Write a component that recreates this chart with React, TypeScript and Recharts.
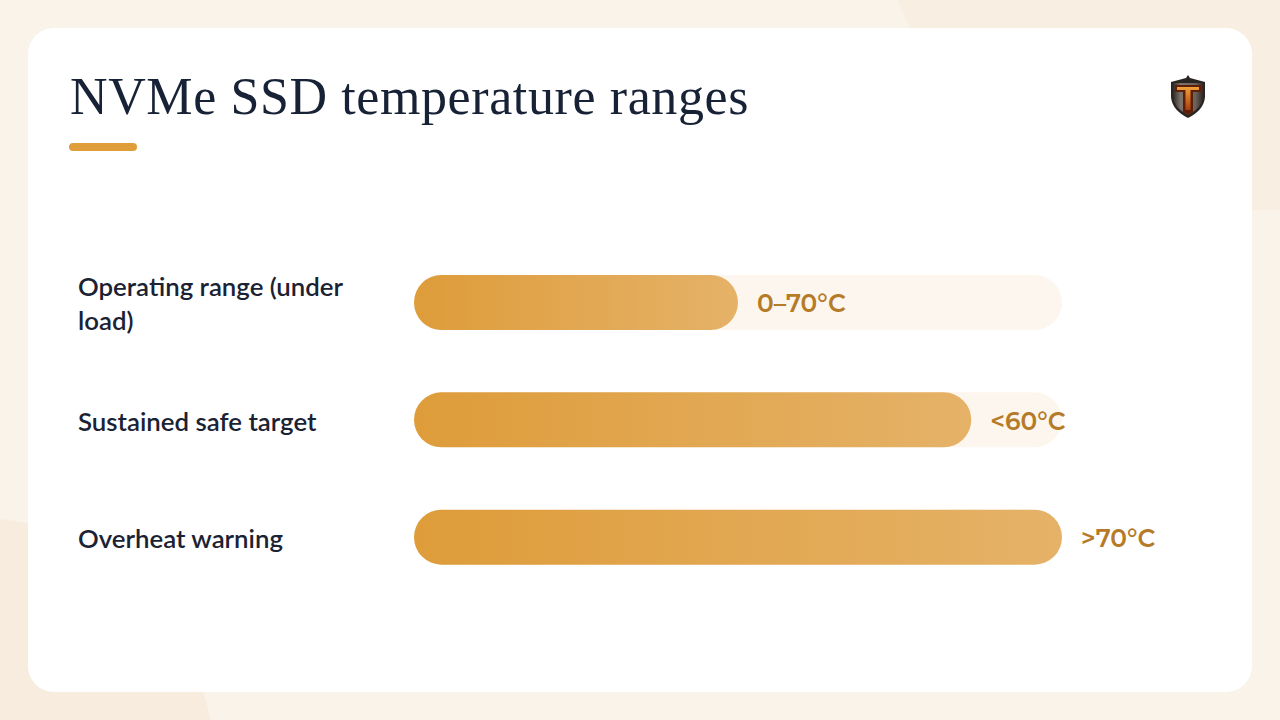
import { BarChart, Bar, XAxis, YAxis, LabelList } from "recharts";

const categories = ["Operating range (under load)", "Sustained safe target", "Overheat warning"];
const categoryLines = [["Operating range (under", "load)"], ["Sustained safe target"], ["Overheat warning"]];
const fillPercent = [50, 86, 100];
const rangeLabels = ["0–70°C", "<60°C", ">70°C"];

const rows = categories.map((name, i) => ({
  name,
  percent: fillPercent[i],
  label: rangeLabels[i],
}));

const CategoryTick = ({ y, index }: any) => {
  const lines = categoryLines[index];
  const first = y + 10.5 - ((lines.length - 1) * 34.5) / 2;
  return (
    <text x={78} y={first} fontFamily="Lato" fontWeight={600} fontSize={25.8} fill="#1a2233">
      {lines.map((line, i) => (
        <tspan key={line} x={78} y={first + i * 34.5}>
          {line}
        </tspan>
      ))}
    </text>
  );
};

const Shield = () => (
  <svg width="36" height="44" viewBox="0 0 36 44" style={{ position: "absolute", left: 1170, top: 75 }}>
    <defs>
      <linearGradient id="metal" x1="0" y1="0" x2="1" y2="0">
        <stop offset="0%" stopColor="#2e2825" />
        <stop offset="25%" stopColor="#7d736b" />
        <stop offset="75%" stopColor="#6b625c" />
        <stop offset="100%" stopColor="#2e2825" />
      </linearGradient>
      <linearGradient id="cross" x1="0" y1="0" x2="0" y2="1">
        <stop offset="0%" stopColor="#f0a23a" />
        <stop offset="100%" stopColor="#a8400f" />
      </linearGradient>
    </defs>
    <path d="M18 0 L20 3 L35 7 L35 22 Q34 35 18 43 Q2 35 1 22 L1 7 L16 3 Z" fill="#2a2422" />
    <path d="M3 8 L33 8 L33 22 Q32 33 18 40 Q4 33 3 22 Z" fill="url(#metal)" />
    <path d="M5 10 H31 V17 H23 V37 L18 40 L13 37 V17 H5 Z" fill="#5e1e0a" />
    <path d="M7 12 H29 V15 H20.5 V35 H15.5 V15 H7 Z" fill="url(#cross)" />
  </svg>
);

export default function App() {
  return (
    <div style={{ position: "fixed", left: 0, top: 0, width: 1280, height: 720, overflow: "hidden", background: "#f9f3ea" }}>
      <div style={{ position: "absolute", left: 885, top: -260, width: 640, height: 470, borderRadius: "0 0 0 60%", background: "#f8eee1" }} />
      <div style={{ position: "absolute", left: -180, top: 518, width: 395, height: 420, borderRadius: "0 60% 0 0", background: "#f8ecdf" }} />
      <div style={{ position: "absolute", left: 28, top: 28, width: 1224, height: 664, borderRadius: 26, background: "#ffffff" }} />
      <div
        style={{
          position: "absolute",
          left: 70,
          top: 66,
          fontFamily: "Liberation Serif",
          fontSize: 52,
          letterSpacing: 0.6,
          lineHeight: "62px",
          color: "#182236",
          whiteSpace: "nowrap",
        }}
      >
        NVMe SSD temperature ranges
      </div>
      <div style={{ position: "absolute", left: 69, top: 143, width: 68, height: 8, borderRadius: 4, background: "#e09e3a" }} />
      <Shield />
      <div style={{ position: "absolute", left: 0, top: 244 }}>
        <BarChart
          width={1280}
          height={352}
          data={rows}
          layout="vertical"
          margin={{ top: 0, right: 218, bottom: 0, left: 0 }}
        >
          <defs>
            <linearGradient id="barFill" x1="0" y1="0" x2="1" y2="0">
              <stop offset="0%" stopColor="#de9c3a" />
              <stop offset="100%" stopColor="#e5b268" />
            </linearGradient>
          </defs>
          <XAxis type="number" domain={[0, 100]} hide />
          <YAxis
            type="category"
            dataKey="name"
            width={414}
            axisLine={false}
            tickLine={false}
            tick={<CategoryTick />}
            interval={0}
          />
          <Bar
            dataKey="percent"
            barSize={55}
            radius={27.5}
            fill="url(#barFill)"
            background={{ fill: "#fdf6ee", radius: 27.5 }}
            isAnimationActive={false}
          >
            <LabelList
              dataKey="label"
              position="right"
              offset={19}
              dy={1}
              fill="#b67b28"
              fontFamily="Montserrat, Open Sans"
              fontWeight={600}
              fontSize={24.8}
            />
          </Bar>
        </BarChart>
      </div>
    </div>
  );
}
